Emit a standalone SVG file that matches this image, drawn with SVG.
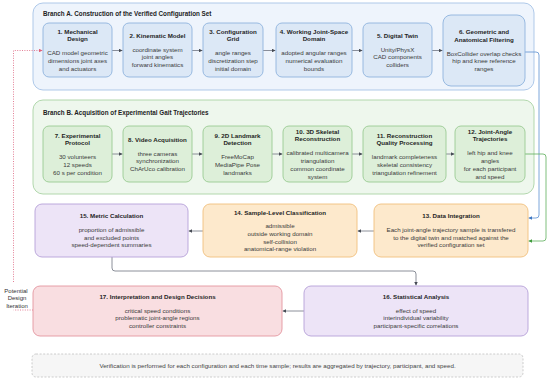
<svg xmlns="http://www.w3.org/2000/svg" width="550" height="381" viewBox="0 0 550 381">
<defs>
<style>
text{font-family:"Liberation Sans",Arial,sans-serif;text-anchor:middle}
.t{font-size:6.2px;font-weight:bold;fill:#1f1f1f}
.b{font-size:6.2px;fill:#3a3a3a}
.h{font-size:6.3px;font-weight:bold;fill:#222;text-anchor:start}
.ca{fill:#EEF4FC;stroke:#A6C3E6;stroke-width:0.9}
.cb{fill:#EEF7ED;stroke:#A9D3A4;stroke-width:0.9}
.na{fill:#DCE8F6;stroke:#8EB3DE;stroke-width:0.9}
.nb{fill:#DDEFD9;stroke:#9ACB93;stroke-width:0.9}
.no{fill:#FDE9CC;stroke:#F0C07E;stroke-width:0.9}
.np{fill:#EDE4F7;stroke:#B5A0D8;stroke-width:0.9}
.nr{fill:#F9DEE1;stroke:#E3959F;stroke-width:0.9}
.e{fill:none;stroke:#6E7480;stroke-width:0.8;marker-end:url(#ag)}
.eb{fill:none;stroke:#5B8FD0;stroke-width:0.8;marker-end:url(#abl)}
.eg{fill:none;stroke:#5DAE5A;stroke-width:0.8;marker-end:url(#agr)}
.er{fill:none;stroke:#E0708A;stroke-width:0.9;stroke-dasharray:1 1.4}
</style>
<marker id="ag" viewBox="0 0 6 6" refX="6" refY="3" markerWidth="3.6" markerHeight="3.6" markerUnits="userSpaceOnUse" orient="auto"><path d="M0,0 L6,3 L0,6 z" fill="#464B54"/></marker>
<marker id="abl" viewBox="0 0 6 6" refX="6" refY="3" markerWidth="3.6" markerHeight="3.6" markerUnits="userSpaceOnUse" orient="auto"><path d="M0,0 L6,3 L0,6 z" fill="#3F78C2"/></marker>
<marker id="agr" viewBox="0 0 6 6" refX="6" refY="3" markerWidth="3.6" markerHeight="3.6" markerUnits="userSpaceOnUse" orient="auto"><path d="M0,0 L6,3 L0,6 z" fill="#3E9A3B"/></marker>
<marker id="ar" viewBox="0 0 6 6" refX="6" refY="3" markerWidth="3.6" markerHeight="3.6" markerUnits="userSpaceOnUse" orient="auto"><path d="M0,0 L6,3 L0,6 z" fill="#E0607A"/></marker>
</defs>
<rect width="550" height="381" fill="#ffffff"/>

<g id="branchA">
<rect class="ca" x="33" y="3" width="501" height="87" rx="10"/>
<text class="h" x="43" y="15.5">Branch A. Construction of the Verified Configuration Set</text>
</g>
<g id="branchB">
<rect class="cb" x="33" y="100" width="501" height="94" rx="10"/>
<text class="h" x="43" y="114.5">Branch B. Acquisition of Experimental Gait Trajectories</text>
</g>

<g id="connectors">
<path class="e" d="M112,50.5 H122.5"/>
<path class="e" d="M192,50.5 H202.5"/>
<path class="e" d="M263,50.5 H275.5"/>
<path class="e" d="M352,50.5 H362.5"/>
<path class="e" d="M432,50.5 H442.5"/>
<path class="e" d="M112,154 H122.5"/>
<path class="e" d="M192,154 H202.5"/>
<path class="e" d="M272,154 H282.5"/>
<path class="e" d="M352,154 H362.5"/>
<path class="e" d="M446,154 H454.5"/>
<path class="eb" d="M525,52 H536 Q539,52 539,55 V215 Q539,218 536,218 H528.5"/>
<path class="eg" d="M525,154 H543 Q546,154 546,157 V238 Q546,241 543,241 H528.5"/>
<path class="e" d="M374,231 H357.5"/>
<path class="e" d="M203,231 H188.5"/>
<path class="e" d="M112,257 V268 Q112,271 115,271 H413 Q416,271 416,274 V285.5"/>
<path class="e" d="M304,311 H282.5"/>
<path class="er" d="M33,310 H13.5"/>
<path class="er" d="M13.5,282 V50.5 H42.5" marker-end="url(#ar)"/>
</g>
<g id="iterationLabel">
<text class="b" x="16" y="292.5" style="font-size:6px;fill:#333">Potential</text>
<text class="b" x="17" y="300" style="font-size:6px;fill:#333">Design</text>
<text class="b" x="17" y="307.5" style="font-size:6px;fill:#333">Iteration</text>
</g>

<g id="n1">
<rect class="na" x="43" y="23" width="69" height="54" rx="6"/>
<text class="t" x="77.5" y="33.75">1. Mechanical</text>
<text class="t" x="77.5" y="41.25">Design</text>
<text class="b" x="77.5" y="55.25">CAD model geometric</text>
<text class="b" x="77.5" y="62.95">dimensions joint axes</text>
<text class="b" x="77.5" y="70.65">and actuators</text>
</g>
<g id="n2">
<rect class="na" x="123" y="23" width="69" height="54" rx="6"/>
<text class="t" x="157.5" y="37.5">2. Kinematic Model</text>
<text class="b" x="157.5" y="51.5">coordinate system</text>
<text class="b" x="157.5" y="59.2">joint angles</text>
<text class="b" x="157.5" y="66.9">forward kinematics</text>
</g>
<g id="n3">
<rect class="na" x="203" y="23" width="60" height="54" rx="6"/>
<text class="t" x="233" y="33.75">3. Configuration</text>
<text class="t" x="233" y="41.25">Grid</text>
<text class="b" x="233" y="55.25">angle ranges</text>
<text class="b" x="233" y="62.95">discretization step</text>
<text class="b" x="233" y="70.65">initial domain</text>
</g>
<g id="n4">
<rect class="na" x="276" y="23" width="76" height="54" rx="6"/>
<text class="t" x="314" y="33.75">4. Working Joint-Space</text>
<text class="t" x="314" y="41.25">Domain</text>
<text class="b" x="314" y="55.25">adopted angular ranges</text>
<text class="b" x="314" y="62.95">numerical evaluation</text>
<text class="b" x="314" y="70.65">bounds</text>
</g>
<g id="n5">
<rect class="na" x="363" y="23" width="69" height="54" rx="6"/>
<text class="t" x="397.5" y="37.5">5. Digital Twin</text>
<text class="b" x="397.5" y="51.5">Unity/PhysX</text>
<text class="b" x="397.5" y="59.2">CAD components</text>
<text class="b" x="397.5" y="66.9">colliders</text>
</g>
<g id="n6">
<rect class="na" x="443" y="15" width="82" height="71" rx="8"/>
<text class="t" x="484" y="34.25">6. Geometric and</text>
<text class="t" x="484" y="41.75">Anatomical Filtering</text>
<text class="b" x="484" y="55.75">BoxCollider overlap checks</text>
<text class="b" x="484" y="63.45">hip and knee reference</text>
<text class="b" x="484" y="71.15">ranges</text>
</g>

<g id="n7">
<rect class="nb" x="43" y="126" width="69" height="56" rx="6"/>
<text class="t" x="77.5" y="137.75">7. Experimental</text>
<text class="t" x="77.5" y="145.25">Protocol</text>
<text class="b" x="77.5" y="159.25">30 volunteers</text>
<text class="b" x="77.5" y="166.95">12 speeds</text>
<text class="b" x="77.5" y="174.65">60 s per condition</text>
</g>
<g id="n8">
<rect class="nb" x="123" y="126" width="69" height="56" rx="6"/>
<text class="t" x="157.5" y="141.5">8. Video Acquisition</text>
<text class="b" x="157.5" y="155.5">three cameras</text>
<text class="b" x="157.5" y="163.2">synchronization</text>
<text class="b" x="157.5" y="170.9">ChArUco calibration</text>
</g>
<g id="n9">
<rect class="nb" x="203" y="126" width="69" height="56" rx="6"/>
<text class="t" x="237.5" y="137.75">9. 2D Landmark</text>
<text class="t" x="237.5" y="145.25">Detection</text>
<text class="b" x="237.5" y="159.25">FreeMoCap</text>
<text class="b" x="237.5" y="166.95">MediaPipe Pose</text>
<text class="b" x="237.5" y="174.65">landmarks</text>
</g>
<g id="n10">
<rect class="nb" x="283" y="126" width="69" height="56" rx="6"/>
<text class="t" x="317.5" y="133.9">10. 3D Skeletal</text>
<text class="t" x="317.5" y="141.4">Reconstruction</text>
<text class="b" x="317.5" y="155.4">calibrated multicamera</text>
<text class="b" x="317.5" y="163.1">triangulation</text>
<text class="b" x="317.5" y="170.8">common coordinate</text>
<text class="b" x="317.5" y="178.5">system</text>
</g>
<g id="n11">
<rect class="nb" x="363" y="126" width="83" height="56" rx="6"/>
<text class="t" x="404.5" y="137.75">11. Reconstruction</text>
<text class="t" x="404.5" y="145.25">Quality Processing</text>
<text class="b" x="404.5" y="159.25">landmark completeness</text>
<text class="b" x="404.5" y="166.95">skeletal consistency</text>
<text class="b" x="404.5" y="174.65">triangulation refinement</text>
</g>
<g id="n12">
<rect class="nb" x="455" y="126" width="70" height="56" rx="6"/>
<text class="t" x="490" y="133.9">12. Joint-Angle</text>
<text class="t" x="490" y="141.4">Trajectories</text>
<text class="b" x="490" y="155.4">left hip and knee</text>
<text class="b" x="490" y="163.1">angles</text>
<text class="b" x="490" y="170.8">for each participant</text>
<text class="b" x="490" y="178.5">and speed</text>
</g>

<g id="n13">
<rect class="no" x="374" y="204" width="154" height="53" rx="7"/>
<text class="t" x="451" y="218">13. Data Integration</text>
<text class="b" x="451" y="232">Each joint-angle trajectory sample is transfered</text>
<text class="b" x="451" y="239.7">to the digital twin and matched against the</text>
<text class="b" x="451" y="247.4">verified configuration set</text>
</g>
<g id="n14">
<rect class="no" x="203" y="204" width="154" height="53" rx="7"/>
<text class="t" x="280" y="214.6">14. Sample-Level Classification</text>
<text class="b" x="280" y="228.4">admissible</text>
<text class="b" x="280" y="236.1">outside working domain</text>
<text class="b" x="280" y="243.8">self-collision</text>
<text class="b" x="280" y="251.3">anatomical-range violation</text>
</g>
<g id="n15">
<rect class="np" x="35" y="204" width="153" height="53" rx="7"/>
<text class="t" x="111.5" y="218">15. Metric Calculation</text>
<text class="b" x="111.5" y="232">proportion of admissible</text>
<text class="b" x="111.5" y="239.7">and excluded points</text>
<text class="b" x="111.5" y="247.4">speed-dependent summaries</text>
</g>
<g id="n16">
<rect class="np" x="304" y="286" width="224" height="50" rx="7"/>
<text class="t" x="416" y="298.7">16. Statistical Analysis</text>
<text class="b" x="416" y="312.5">effect of speed</text>
<text class="b" x="416" y="320.2">interindividual variability</text>
<text class="b" x="416" y="327.9">participant-specific correlations</text>
</g>
<g id="n17">
<rect class="nr" x="33" y="286" width="249" height="50" rx="7"/>
<text class="t" x="157.5" y="298.7">17. Interpretation and Design Decisions</text>
<text class="b" x="157.5" y="312.5">critical speed conditions</text>
<text class="b" x="157.5" y="320.2">problematic joint-angle regions</text>
<text class="b" x="157.5" y="327.9">controller constraints</text>
</g>

<g id="footer">
<rect x="32" y="354" width="491" height="23" rx="4" fill="#F6F6F6" stroke="#C2C2C2" stroke-width="0.8" stroke-dasharray="2 1.6"/>
<text class="b" x="277.5" y="368.2" style="fill:#444">Verification is performed for each configuration and each time sample; results are aggregated by trajectory, participant, and speed.</text>
</g>
</svg>
